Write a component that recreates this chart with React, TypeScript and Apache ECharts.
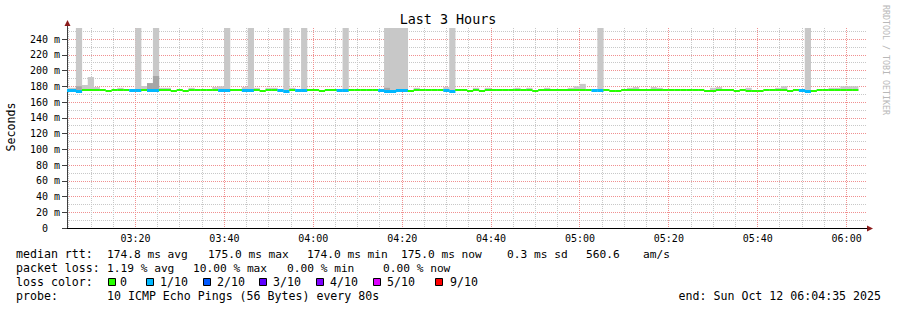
import React, { useEffect, useRef } from 'react';
import * as echarts from 'echarts';

// ---- time window (minutes since midnight) ----
const START_MIN = 3 * 60 + 4 + 35 / 60; // 03:04:35
const END_MIN = 6 * 60 + 4 + 35 / 60; // 06:04:35
const STEP_MIN = 80 / 60; // one sample every 80 s

// x grid positions (minutes since midnight)
const xMajorGrid = [200, 220, 240, 260, 280, 300, 320, 340, 360];
const xMinorGrid = [
  185, 190, 195, 205, 210, 215, 225, 230, 235, 245, 250, 255, 265, 270, 275,
  285, 290, 295, 305, 310, 315, 325, 330, 335, 345, 350, 355,
];

// ---- per-sample values (134 samples) ----
const medianMs = [
  175, 175, 174, 175, 175, 175, 175, 174, 175, 175,
  175, 175, 175, 175, 175, 175, 175, 175, 174, 175,
  174, 175, 175, 175, 175, 175, 175, 175, 175, 175,
  175, 175, 175, 174, 175, 175, 175, 174, 175, 175,
  175, 175, 175, 174, 175, 175, 175, 175, 175, 175,
  175, 175, 175, 175, 174, 174, 175, 175, 174, 175,
  175, 175, 175, 175, 175, 174, 175, 175, 174, 175,
  174, 175, 175, 175, 175, 175, 175, 175, 175, 174,
  175, 175, 175, 175, 175, 175, 175, 175, 175, 175,
  175, 175, 174.5, 174, 175, 175, 175, 175, 175, 175,
  175, 175, 175, 175, 175, 175, 175, 175, 174, 174,
  175, 175, 175, 174, 175, 174.5, 174.5, 174.5, 175, 175,
  175, 175, 174, 175, 175, 174, 174, 175, 175, 175,
  175, 175, 175, 175,
];

const lossCount = [
  1, 1, 1, 0, 0, 0, 0, 0, 0, 0,
  0, 1, 1, 0, 1, 1, 0, 0, 0, 0,
  0, 0, 0, 0, 0, 0, 1, 1, 0, 0,
  1, 1, 0, 0, 0, 0, 1, 1, 0, 1,
  1, 0, 0, 0, 0, 0, 1, 1, 0, 0,
  0, 0, 0, 1, 1, 1, 1, 1, 0, 0,
  0, 0, 0, 0, 1, 1, 0, 0, 0, 0,
  0, 0, 0, 0, 0, 0, 0, 0, 0, 0,
  0, 0, 0, 0, 0, 0, 0, 0, 0, 1,
  1, 0, 0, 0, 0, 0, 0, 0, 0, 0,
  0, 0, 0, 0, 0, 0, 0, 0, 0, 0,
  0, 0, 0, 0, 0, 0, 0, 0, 0, 0,
  0, 0, 0, 0, 1, 1, 0, 0, 0, 0,
  0, 0, 0, 0,
];

// top of the light smoke (0 = none visible)
const smokeHighMs = [
  178, 178, 254, 181.6, 191.7, 179, 0, 0, 0, 178,
  0, 0, 254, 180.3, 184, 254, 178, 178, 0, 0,
  0, 178, 0, 0, 0, 179, 180, 254, 0, 0,
  179, 254, 178, 0, 178, 178, 0, 254, 178, 0,
  254, 0, 0, 0, 0, 0, 0, 254, 0, 0,
  0, 0, 0, 0, 254, 254, 254, 254, 0, 178,
  0, 0, 0, 0, 179, 254, 0, 0, 0, 178,
  0, 178, 0, 0, 0, 0, 178, 0, 178, 0,
  0, 178, 0, 0, 0, 178, 180, 183, 0, 0,
  254, 0, 0, 0, 0, 178, 179, 0, 0, 179,
  178, 0, 0, 0, 0, 0, 0, 0, 0, 178,
  179, 0, 0, 0, 0, 178, 0, 0, 0, 0,
  178, 180, 0, 0, 0, 254, 0, 0, 0, 178,
  178, 180, 180, 180,
];

// top of the darker smoke band (0 = none)
const smokeDarkMs = [
  0, 0, 180, 0, 0, 0, 0, 0, 0, 0,
  0, 0, 0, 0, 184, 193, 0, 0, 0, 0,
  0, 0, 0, 0, 0, 0, 0, 0, 0, 0,
  0, 0, 0, 0, 0, 0, 0, 0, 0, 0,
  0, 0, 0, 0, 0, 0, 0, 0, 0, 0,
  0, 0, 0, 0, 178, 0, 0, 0, 0, 0,
  0, 0, 0, 0, 0, 0, 0, 0, 0, 0,
  0, 0, 0, 0, 0, 0, 0, 0, 0, 0,
  0, 0, 0, 0, 0, 0, 0, 0, 0, 0,
  0, 0, 0, 0, 0, 0, 0, 0, 0, 0,
  0, 0, 0, 0, 0, 0, 0, 0, 0, 0,
  0, 0, 0, 0, 0, 0, 0, 0, 0, 0,
  0, 0, 0, 0, 0, 0, 0, 0, 0, 0,
  0, 0, 0, 0,
];
const SMOKE_LOW_MS = 174;

// ---- legend / text ----
const lossLegendCounts = [0, 1, 2, 3, 4, 5, 9];
const lossLegendLabels = ['0', '1/10', '2/10', '3/10', '4/10', '5/10', '9/10'];
const lossLegendColors = ['#26ff00', '#00b8ff', '#0059ff', '#5e00ff', '#7e00ff', '#dd00ff', '#ff0000'];
const rttStats = ['174.8 ms avg', '175.0 ms max', '174.0 ms min', '175.0 ms now', '0.3 ms sd', '560.6', 'am/s'];
const lossStats = ['1.19 % avg', '10.00 % max', '0.00 % min', '0.00 % now'];
const probeText = '10 ICMP Echo Pings (56 Bytes) every 80s';
const endText = 'end: Sun Oct 12 06:04:35 2025';
const titleText = 'Last 3 Hours';

const MONO = '"DejaVu Sans Mono", monospace';
const MAJOR_COLOR = '#f09090';
const MINOR_COLOR = '#c8c8c8';

function lossColor(n: number): string {
  const i = lossLegendCounts.indexOf(n);
  if (i >= 0) return lossLegendColors[i];
  return n > 5 ? '#ff0000' : '#dd00ff';
}

function fmtTime(v: number): string {
  const total = Math.round(v);
  const h = Math.floor(total / 60);
  const m = total % 60;
  return String(h).padStart(2, '0') + ':' + String(m).padStart(2, '0');
}

export default function App() {
  const ref = useRef<HTMLDivElement>(null);

  useEffect(() => {
    document.body.style.margin = '0';
    if (!ref.current) return;
    const chart = echarts.init(ref.current, undefined, { renderer: 'svg' });

    const data = medianMs.map((m, k) => [
      START_MIN + k * STEP_MIN,
      m,
      lossCount[k],
      smokeHighMs[k],
      smokeDarkMs[k],
    ]);
    const gridData = [
      ...xMinorGrid.map((v) => [v, 0]),
      ...xMajorGrid.map((v) => [v, 1]),
    ];
    const HALF = STEP_MIN / 2;

    const clip = (r: any, cs: any) =>
      echarts.graphic.clipRectByRect(r, { x: cs.x, y: cs.y, width: cs.width, height: cs.height });

    const gridRender = (params: any, api: any) => {
      const v = api.value(0);
      const major = api.value(1) === 1;
      const cs = params.coordSys;
      const x = Math.floor(api.coord([v, 0])[0]) + 0.5;
      return {
        type: 'line',
        shape: { x1: x, y1: cs.y, x2: x, y2: cs.y + cs.height },
        style: { stroke: major ? MAJOR_COLOR : MINOR_COLOR, lineWidth: 1, lineDash: [1, 1] },
      };
    };

    const smokeRender = (params: any, api: any) => {
      const t = api.value(0);
      const hi = api.value(3);
      const dk = api.value(4);
      const cs = params.coordSys;
      const children: any[] = [];
      const mk = (top: number, color: string) => {
        const p1 = api.coord([t - HALF, top]);
        const p2 = api.coord([t + HALF, SMOKE_LOW_MS]);
        const shape = clip({ x: p1[0], y: p1[1], width: p2[0] - p1[0] + 0.3, height: p2[1] - p1[1] }, cs);
        if (shape) children.push({ type: 'rect', shape, style: { fill: color } });
      };
      if (hi > 0) mk(hi, '#c8c8c8');
      if (dk > 0) mk(dk, '#a6a6a6');
      return { type: 'group', children };
    };

    const medianRender = (params: any, api: any) => {
      const t = api.value(0);
      const med = api.value(1);
      const loss = api.value(2);
      const cs = params.coordSys;
      const p1 = api.coord([t - HALF, med]);
      const p2 = api.coord([t + HALF, med]);
      const h = loss > 0 ? 3 : 2;
      const y = Math.round(p1[1] - 1);
      const shape = clip({ x: p1[0], y, width: p2[0] - p1[0] + 0.3, height: h }, cs);
      if (!shape) return { type: 'group', children: [] };
      return { type: 'rect', shape, style: { fill: lossColor(loss) } };
    };

    const graphics: any[] = [];
    const txt = (text: string, x: number, y: number, extra: any = {}) =>
      graphics.push({
        type: 'text',
        x,
        y,
        silent: true,
        ...extra,
        style: {
          text,
          font: (extra.fontSize || 11.6) + 'px ' + MONO,
          fill: extra.fill || '#000',
          align: extra.align || 'left',
          textAlign: extra.align || 'left',
          verticalAlign: 'middle',
          textVerticalAlign: 'middle',
        },
      });

    // title and axis names
    txt(titleText, 448, 19, { fontSize: 13.4, align: 'center' });
    txt('Seconds', 11, 127, { rotation: Math.PI / 2, align: 'center' });
    txt('RRDTOOL / TOBI OETIKER', 886, 5, { rotation: -Math.PI / 2, fontSize: 8.3, fill: '#b8b8b8' });

    // legend rows
    const rowY = [254, 268, 282, 296];
    txt('median rtt:', 16, rowY[0]);
    [107, 208, 307, 401, 507, 586, 643].forEach((x, i) => txt(rttStats[i], x, rowY[0], { fontSize: 11.2 }));
    txt('packet loss:', 16, rowY[1]);
    [107, 193, 287, 383].forEach((x, i) => txt(lossStats[i], x, rowY[1], { fontSize: 11.2 }));
    txt('loss color:', 16, rowY[2]);
    const sqX = [108, 146, 203, 259, 316, 373, 435];
    const lbX = [120, 160, 217, 273, 330, 387, 450];
    lossLegendLabels.forEach((lab, i) => {
      graphics.push({
        type: 'rect',
        silent: true,
        shape: { x: sqX[i] + 0.5, y: 278.5, width: 7, height: 7 },
        style: { fill: lossLegendColors[i], stroke: '#000', lineWidth: 1 },
      });
      txt(lab, lbX[i], rowY[2]);
    });
    txt('probe:', 16, rowY[3]);
    txt(probeText, 107, rowY[3]);
    txt(endText, 881, rowY[3], { align: 'right' });

    // axis extensions and arrows
    graphics.push({ type: 'line', silent: true, shape: { x1: 67.5, y1: 28, x2: 67.5, y2: 22 }, style: { stroke: '#404040', lineWidth: 1 } });
    graphics.push({ type: 'line', silent: true, shape: { x1: 62, y1: 228.5, x2: 67, y2: 228.5 }, style: { stroke: '#000', lineWidth: 1 } });
    graphics.push({ type: 'polygon', silent: true, shape: { points: [[64.5, 26], [70.5, 26], [67.5, 20]] }, style: { fill: '#8c1c1c' } });
    graphics.push({ type: 'polygon', silent: true, shape: { points: [[867, 225.5], [867, 231.5], [873, 228.5]] }, style: { fill: '#8c1c1c' } });

    const gridLineMajor = { color: MAJOR_COLOR, type: [1, 1] as any, width: 1 };
    const gridLineMinor = { color: MINOR_COLOR, type: [1, 1] as any, width: 1 };

    chart.setOption({
      animation: false,
      backgroundColor: '#ffffff',
      grid: { left: 67, right: 30, top: 28, bottom: 82, containLabel: false },
      xAxis: {
        type: 'value',
        min: START_MIN,
        max: END_MIN,
        splitNumber: 9,
        minInterval: 20,
        maxInterval: 20,
        axisLine: { show: true, lineStyle: { color: '#000', width: 1 } },
        axisTick: { show: false },
        axisLabel: {
          show: true,
          showMinLabel: false,
          showMaxLabel: false,
          formatter: (v: number) => fmtTime(v),
          fontFamily: MONO,
          fontSize: 10,
          color: '#000',
          margin: 5,
        },
        splitLine: { show: false },
        minorSplitLine: { show: false },
      },
      yAxis: {
        type: 'value',
        min: 0,
        max: 254,
        splitNumber: 12,
        minInterval: 20,
        maxInterval: 20,
        axisLine: { show: true, lineStyle: { color: '#404040', width: 1 } },
        axisTick: { show: true, length: 5, lineStyle: { color: '#404040' } },
        axisLabel: {
          showMaxLabel: false,
          formatter: (v: number) => (v === 0 ? '0\u00a0\u00a0' : `${Math.round(v)} m`),
          fontFamily: MONO,
          fontSize: 10,
          color: '#000',
          margin: 7,
        },
        splitLine: { show: true, showMinLine: false, showMaxLine: false, lineStyle: gridLineMajor },
        minorTick: { show: false, splitNumber: 2 },
        minorSplitLine: { show: true, lineStyle: gridLineMinor },
      },
      series: [
        { type: 'custom', name: 'grid', renderItem: gridRender, data: gridData, encode: { x: 0 }, silent: true, z: 1 },
        { type: 'custom', name: 'smoke', renderItem: smokeRender, data, encode: { x: 0, y: 1 }, silent: true, z: 2 },
        { type: 'custom', name: 'median', renderItem: medianRender, data, encode: { x: 0, y: 1 }, silent: true, z: 3 },
      ],
      graphic: graphics,
    });

    return () => chart.dispose();
  }, []);

  return <div ref={ref} style={{ position: 'fixed', left: 0, top: 0, width: 897, height: 310 }} />;
}
